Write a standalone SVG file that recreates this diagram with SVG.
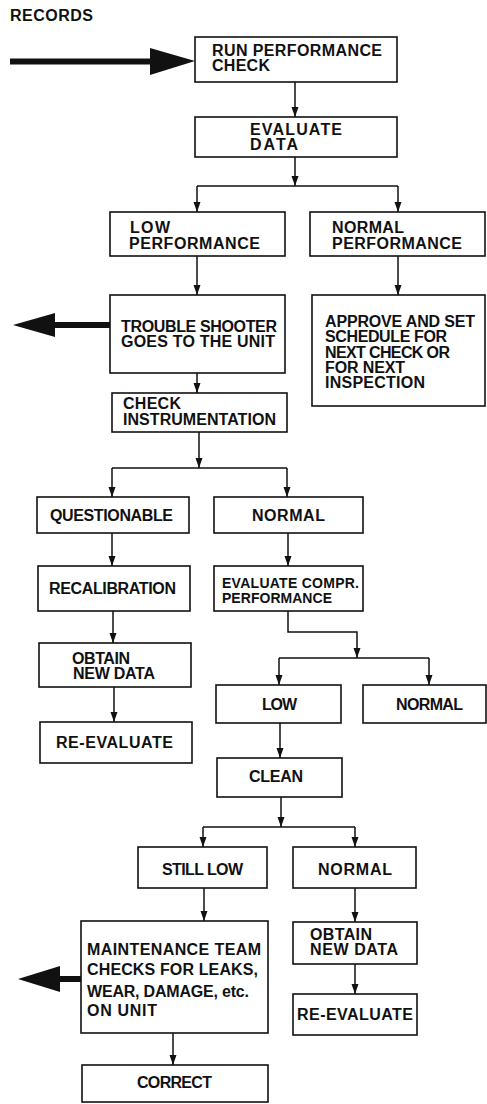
<svg xmlns="http://www.w3.org/2000/svg" width="487" height="1104" viewBox="0 0 487 1104">
  <style>
    .box { fill: #fff; stroke: #111; stroke-width: 1.6; }
    .lbl { font-family: "Liberation Sans", Arial, sans-serif; font-weight: bold; font-size: 16px; fill: #111; }
    .sm { font-size: 14px; }
    .link { fill: none; stroke: #111; stroke-width: 1.5; }
    .big { fill: #111; stroke: none; }
  </style>
  <defs>
    <marker id="arr" markerUnits="userSpaceOnUse" markerWidth="10" markerHeight="8" refX="10" refY="4" orient="auto">
      <path d="M0,0.5 L10,4 L0,7.5 z" fill="#111"/>
    </marker>
  </defs>

  <rect width="487" height="1104" fill="#fff"/>

  <text class="lbl" x="10" y="21" font-size="13" textLength="83" lengthAdjust="spacing">RECORDS</text>

  <!-- connectors -->
  <g id="connectors">
    <!-- heavy incoming / outgoing arrows -->
    <rect class="big" x="10" y="58.5" width="142" height="6"/>
    <polygon class="big" points="150,48 195,61 150,75"/>
    <rect class="big" x="53" y="322" width="58" height="6"/>
    <polygon class="big" points="55,313 13,325 55,337"/>
    <rect class="big" x="58" y="976" width="24" height="6"/>
    <polygon class="big" points="60,966 18,979 60,992"/>

    <path class="link" d="M295,82 V117" marker-end="url(#arr)"/>
    <path class="link" d="M295,157 V186" marker-end="url(#arr)"/>
    <path class="link" d="M197,186 H398"/>
    <path class="link" d="M197,186 V212" marker-end="url(#arr)"/>
    <path class="link" d="M398,186 V212" marker-end="url(#arr)"/>
    <path class="link" d="M197,256 V295" marker-end="url(#arr)"/>
    <path class="link" d="M398,256 V295" marker-end="url(#arr)"/>
    <path class="link" d="M197,373 V393" marker-end="url(#arr)"/>
    <path class="link" d="M199,432 V468" marker-end="url(#arr)"/>
    <path class="link" d="M112,468 H287"/>
    <path class="link" d="M112,468 V497" marker-end="url(#arr)"/>
    <path class="link" d="M287,468 V497" marker-end="url(#arr)"/>
    <path class="link" d="M112,533 V566" marker-end="url(#arr)"/>
    <path class="link" d="M288,533 V566" marker-end="url(#arr)"/>
    <path class="link" d="M113,611 V643" marker-end="url(#arr)"/>
    <path class="link" d="M114,687 V722" marker-end="url(#arr)"/>
    <path class="link" d="M288,611 V632 H357 V658" marker-end="url(#arr)"/>
    <path class="link" d="M279,658 H429"/>
    <path class="link" d="M279,658 V685" marker-end="url(#arr)"/>
    <path class="link" d="M429,658 V685" marker-end="url(#arr)"/>
    <path class="link" d="M280,723 V758" marker-end="url(#arr)"/>
    <path class="link" d="M281,797 V827" marker-end="url(#arr)"/>
    <path class="link" d="M203,827 H355"/>
    <path class="link" d="M203,827 V847" marker-end="url(#arr)"/>
    <path class="link" d="M355,827 V847" marker-end="url(#arr)"/>
    <path class="link" d="M204,888 V921" marker-end="url(#arr)"/>
    <path class="link" d="M355,888 V922" marker-end="url(#arr)"/>
    <path class="link" d="M355,964 V994" marker-end="url(#arr)"/>
    <path class="link" d="M173,1033 V1065" marker-end="url(#arr)"/>
  </g>

  <g id="run-check">
    <rect class="box" x="195" y="37" width="202" height="45"/>
    <text class="lbl" x="212" y="56" textLength="170" lengthAdjust="spacing">RUN PERFORMANCE</text>
    <text class="lbl" x="212" y="71" textLength="58" lengthAdjust="spacing">CHECK</text>
  </g>

  <g id="evaluate-data">
    <rect class="box" x="195" y="117" width="202" height="40"/>
    <text class="lbl" x="250" y="135" textLength="92" lengthAdjust="spacing">EVALUATE</text>
    <text class="lbl" x="250" y="150" textLength="48" lengthAdjust="spacing">DATA</text>
  </g>

  <g id="low-performance">
    <rect class="box" x="110" y="212" width="175" height="44"/>
    <text class="lbl" x="130" y="233" textLength="40" lengthAdjust="spacing">LOW</text>
    <text class="lbl" x="129" y="249" textLength="131" lengthAdjust="spacing">PERFORMANCE</text>
  </g>

  <g id="normal-performance">
    <rect class="box" x="310" y="212" width="175" height="44"/>
    <text class="lbl" x="332" y="233" textLength="72" lengthAdjust="spacing">NORMAL</text>
    <text class="lbl" x="332" y="249" textLength="130" lengthAdjust="spacing">PERFORMANCE</text>
  </g>

  <g id="trouble-shooter">
    <rect class="box" x="110" y="295" width="175" height="78"/>
    <text class="lbl" x="121" y="332" textLength="156" lengthAdjust="spacing">TROUBLE SHOOTER</text>
    <text class="lbl" x="121" y="347" textLength="154" lengthAdjust="spacing">GOES TO THE UNIT</text>
  </g>

  <g id="approve">
    <rect class="box" x="312" y="295" width="173" height="111"/>
    <text class="lbl" x="325" y="327" textLength="150" lengthAdjust="spacing">APPROVE AND SET</text>
    <text class="lbl" x="325" y="342" textLength="122" lengthAdjust="spacing">SCHEDULE FOR</text>
    <text class="lbl" x="325" y="357.5" textLength="125" lengthAdjust="spacing">NEXT CHECK OR</text>
    <text class="lbl" x="325" y="373" textLength="80" lengthAdjust="spacing">FOR NEXT</text>
    <text class="lbl" x="325" y="388" textLength="100" lengthAdjust="spacing">INSPECTION</text>
  </g>

  <g id="check-instrumentation">
    <rect class="box" x="112" y="393" width="175" height="39"/>
    <text class="lbl" x="123" y="409" textLength="58" lengthAdjust="spacing">CHECK</text>
    <text class="lbl" x="123" y="425" textLength="153" lengthAdjust="spacing">INSTRUMENTATION</text>
  </g>

  <g id="questionable">
    <rect class="box" x="37" y="497" width="152" height="36"/>
    <text class="lbl" x="50" y="521" textLength="123" lengthAdjust="spacing">QUESTIONABLE</text>
  </g>

  <g id="normal-instr">
    <rect class="box" x="214" y="497" width="149" height="36"/>
    <text class="lbl" x="252" y="521" textLength="73" lengthAdjust="spacing">NORMAL</text>
  </g>

  <g id="recalibration">
    <rect class="box" x="38" y="566" width="152" height="45"/>
    <text class="lbl" x="49" y="594" textLength="127" lengthAdjust="spacing">RECALIBRATION</text>
  </g>

  <g id="evaluate-compr">
    <rect class="box" x="214" y="566" width="149" height="45"/>
    <text class="lbl sm" x="222" y="588" textLength="137" lengthAdjust="spacing">EVALUATE COMPR.</text>
    <text class="lbl sm" x="222" y="603" textLength="110" lengthAdjust="spacing">PERFORMANCE</text>
  </g>

  <g id="obtain-left">
    <rect class="box" x="39" y="643" width="152" height="44"/>
    <text class="lbl" x="72" y="664" textLength="58" lengthAdjust="spacing">OBTAIN</text>
    <text class="lbl" x="73" y="679" textLength="82" lengthAdjust="spacing">NEW DATA</text>
  </g>

  <g id="reevaluate-left">
    <rect class="box" x="40" y="722" width="152" height="41"/>
    <text class="lbl" x="56" y="748" textLength="117" lengthAdjust="spacing">RE-EVALUATE</text>
  </g>

  <g id="low-compr">
    <rect class="box" x="216" y="685" width="125" height="38"/>
    <text class="lbl" x="262" y="710" textLength="35" lengthAdjust="spacing">LOW</text>
  </g>

  <g id="normal-compr">
    <rect class="box" x="363" y="685" width="123" height="38"/>
    <text class="lbl" x="396" y="710" textLength="67" lengthAdjust="spacing">NORMAL</text>
  </g>

  <g id="clean">
    <rect class="box" x="217" y="758" width="125" height="39"/>
    <text class="lbl" x="249" y="782" textLength="54" lengthAdjust="spacing">CLEAN</text>
  </g>

  <g id="still-low">
    <rect class="box" x="138" y="847" width="129" height="41"/>
    <text class="lbl" x="162" y="875" textLength="81" lengthAdjust="spacing">STILL LOW</text>
  </g>

  <g id="normal-clean">
    <rect class="box" x="293" y="847" width="123" height="41"/>
    <text class="lbl" x="318" y="875" textLength="74" lengthAdjust="spacing">NORMAL</text>
  </g>

  <g id="maintenance">
    <rect class="box" x="81" y="921" width="187" height="112"/>
    <text class="lbl" x="87" y="955" textLength="174" lengthAdjust="spacing">MAINTENANCE TEAM</text>
    <text class="lbl" x="87" y="975" textLength="171" lengthAdjust="spacing">CHECKS FOR LEAKS,</text>
    <text class="lbl" x="87" y="997" textLength="162" lengthAdjust="spacing">WEAR, DAMAGE, etc.</text>
    <text class="lbl" x="87" y="1016" textLength="70" lengthAdjust="spacing">ON UNIT</text>
  </g>

  <g id="obtain-right">
    <rect class="box" x="293" y="922" width="124" height="42"/>
    <text class="lbl" x="310" y="940" textLength="62" lengthAdjust="spacing">OBTAIN</text>
    <text class="lbl" x="310" y="955" textLength="88" lengthAdjust="spacing">NEW DATA</text>
  </g>

  <g id="reevaluate-right">
    <rect class="box" x="293" y="994" width="124" height="41"/>
    <text class="lbl" x="297" y="1020" textLength="116" lengthAdjust="spacing">RE-EVALUATE</text>
  </g>

  <g id="correct">
    <rect class="box" x="82" y="1065" width="186" height="37"/>
    <text class="lbl" x="137" y="1088" textLength="75" lengthAdjust="spacing">CORRECT</text>
  </g>
</svg>
